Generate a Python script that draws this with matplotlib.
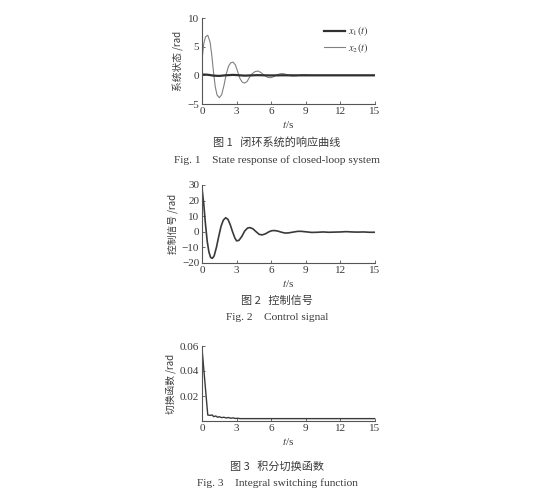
import matplotlib.pyplot as plt
import numpy as np

plt.rcParams['font.family'] = ['Liberation Serif', 'Noto Sans CJK SC']
plt.rcParams['mathtext.fontset'] = 'stix'

# fig 1: system states
t_x1 = [0, 0.5, 1.0, 1.5, 2.0, 2.7, 3.7, 4.8, 6.0, 7.0, 8.0, 15]
x1 = [0.15, 0.1, -0.05, -0.1, 0.0, 0.08, -0.05, 0.03, -0.02, 0.01, 0.0, 0.0]

t_x2 = [0, 0.15, 0.3, 0.5, 0.7, 0.85, 1.0, 1.15, 1.3, 1.5, 1.7, 1.9, 2.1, 2.3,
        2.5, 2.7, 2.9, 3.1, 3.3, 3.5, 3.7, 3.9, 4.1, 4.3, 4.6, 4.85, 5.1, 5.4,
        5.7, 5.95, 6.2, 6.5, 6.8, 7.05, 7.3, 7.6, 7.9, 8.2, 8.5, 8.9, 9.3, 9.7, 15]
x2 = [2.7, 5.5, 6.7, 7.0, 5.8, 3.5, 0.5, -2.0, -3.4, -3.9, -3.4, -1.8, 0.2, 1.6,
      2.2, 2.3, 1.8, 0.6, -0.6, -1.2, -1.35, -1.1, -0.4, 0.2, 0.65, 0.75, 0.5, 0.0,
      -0.35, -0.4, -0.25, 0.1, 0.28, 0.3, 0.15, -0.05, -0.12, -0.08, 0.05, 0.1, 0.05, 0.0, 0.0]

# fig 2: control signal
t_u = [0, 0.15, 0.3, 0.45, 0.6, 0.75, 0.9, 1.05, 1.25, 1.45, 1.65, 1.85, 2.05,
       2.25, 2.45, 2.65, 2.85, 3.0, 3.2, 3.45, 3.7, 3.95, 4.15, 4.4, 4.7, 4.95,
       5.2, 5.5, 5.8, 6.05, 6.3, 6.6, 6.9, 7.2, 7.5, 7.9, 8.3, 8.6, 9.0, 9.5,
       10, 10.5, 11, 11.5, 12, 12.5, 13, 13.5, 14, 14.5, 15]
u = [28, 18, 5, -6, -13, -16.5, -17, -15.5, -10, -3, 3.5, 7.5, 9,
     8, 4.5, 0, -4, -5.8, -5.5, -3, 0.5, 2.4, 2.7, 2, 0, -1.6,
     -2, -1.3, 0, 0.7, 0.8, 0.4, -0.3, -0.8, -0.7, -0.2, 0.3, 0.3, 0, -0.4,
     -0.3, -0.1, -0.3, -0.2, -0.1, 0.1, -0.1, -0.2, -0.1, -0.3, -0.3]

# fig 3: integral switching function
t_s = [0, 0.5, 0.7, 0.9, 1.0, 1.2, 1.35, 1.5, 1.7, 1.9, 2.1, 2.3, 2.5, 2.7,
       2.9, 3.1, 3.3, 15]
s = [0.058, 0.0048, 0.0045, 0.0048, 0.0035, 0.004, 0.003, 0.0034, 0.0027,
     0.003, 0.0024, 0.0028, 0.0022, 0.0025, 0.002, 0.0022, 0.0019, 0.0019]

xticks = [0, 3, 6, 9, 12, 15]
txt = '#3a3a3a'
cjk = ['Noto Sans CJK SC', 'Liberation Serif']
W, H = 536, 503

fig = plt.figure(figsize=(W / 100, H / 100), dpi=100)


def make_ax(top, bottom):
    ax = fig.add_axes([202 / W, (H - bottom) / H, 173 / W, (bottom - top) / H])
    for side in ['top', 'right']:
        ax.spines[side].set_visible(False)
    for side in ['left', 'bottom']:
        ax.spines[side].set_color('#555555')
        ax.spines[side].set_linewidth(0.8)
    ax.tick_params(direction='in', length=2.5, width=0.6, colors='#555555',
                   labelsize=8, labelcolor=txt, pad=2)
    ax.set_xlim(0, 15)
    ax.set_xticks(xticks)
    ax.set_xlabel('$t$/s', fontsize=8, color=txt, labelpad=2)
    return ax


def caption(y_cn, y_en, cn, en):
    fig.text(277 / W, (H - y_cn) / H, cn, ha='center', va='center',
             fontsize=8, color=txt, family=cjk)
    fig.text(277 / W, (H - y_en) / H, en, ha='center', va='center',
             fontsize=8.2, color=txt)


ax1 = make_ax(18, 104)
ax1.plot(t_x2, x2, color='#808080', lw=0.8, label='$x_2(t)$')
ax1.plot(t_x1, x1, color='#303030', lw=1.6, label='$x_1(t)$')
ax1.set_ylim(-5, 10)
ax1.set_yticks([-5, 0, 5, 10])
ax1.set_ylabel('系统状态 /rad', fontsize=7, color=txt, labelpad=3, family=cjk)
h, l = ax1.get_legend_handles_labels()
ax1.legend(h[::-1], l[::-1], loc='upper right', frameon=False, fontsize=7.5,
           handlelength=2.0, handletextpad=0.3, labelspacing=0.3,
           borderaxespad=0.2, labelcolor=txt)
caption(142, 160, '图 1   闭环系统的响应曲线', 'Fig. 1    State response of closed-loop system')

ax2 = make_ax(185, 263)
ax2.plot(t_u, u, color='#3a3a3a', lw=1.2)
ax2.set_ylim(-20, 30)
ax2.set_yticks([-20, -10, 0, 10, 20, 30])
ax2.set_ylabel('控制信号 /rad', fontsize=7, color=txt, labelpad=3, family=cjk)
caption(301, 318, '图 2   控制信号', 'Fig. 2    Control signal')

ax3 = make_ax(346, 421)
ax3.plot(t_s, s, color='#3a3a3a', lw=1.0)
ax3.set_ylim(0, 0.06)
ax3.set_yticks([0.02, 0.04, 0.06])
ax3.set_yticklabels(['0.02', '0.04', '0.06'])
ax3.set_ylabel('切换函数 /rad', fontsize=7, color=txt, labelpad=3, family=cjk)
caption(467, 483, '图 3   积分切换函数', 'Fig. 3    Integral switching function')

fig.savefig('out.png', dpi=100, facecolor='white')
